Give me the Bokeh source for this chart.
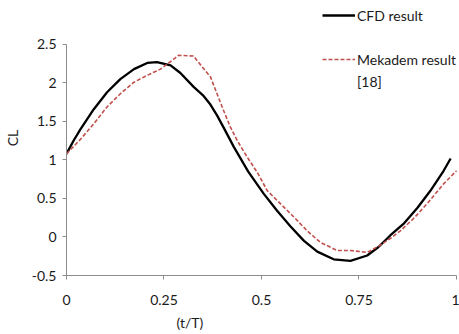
from bokeh.plotting import figure
from bokeh.models import Range1d, FixedTicker, Legend, LegendItem, Title
from bokeh.embed import file_html
from bokeh.resources import INLINE

# CFD result (black)
cfd_t = [0.0, 0.018, 0.036, 0.07, 0.104, 0.138, 0.173, 0.207, 0.232, 0.267, 0.292,
         0.326, 0.35, 0.369, 0.386, 0.403, 0.429, 0.466, 0.506, 0.54, 0.574, 0.609,
         0.643, 0.685, 0.728, 0.771, 0.80, 0.83, 0.864, 0.9, 0.933, 0.967, 0.985]
cfd_cl = [1.08, 1.25, 1.40, 1.66, 1.88, 2.05, 2.18, 2.26, 2.27, 2.23, 2.13,
          1.95, 1.84, 1.72, 1.58, 1.42, 1.17, 0.85, 0.56, 0.34, 0.14, -0.05,
          -0.19, -0.29, -0.31, -0.24, -0.13, 0.02, 0.17, 0.38, 0.60, 0.86, 1.02]

# Mekadem result [18] (red dashed)
mek_t = [0.0, 0.036, 0.07, 0.104, 0.138, 0.173, 0.207, 0.241, 0.275, 0.287, 0.326,
         0.335, 0.369, 0.386, 0.403, 0.42, 0.438, 0.463, 0.489, 0.515, 0.549, 0.583,
         0.617, 0.651, 0.694, 0.728, 0.771, 0.80, 0.83, 0.856, 0.89, 0.926, 0.967, 1.0]
mek_cl = [1.08, 1.27, 1.47, 1.69, 1.86, 2.01, 2.10, 2.18, 2.31, 2.36, 2.35,
          2.29, 2.08, 1.86, 1.64, 1.43, 1.25, 1.04, 0.84, 0.60, 0.43, 0.26,
          0.08, -0.07, -0.175, -0.175, -0.20, -0.12, -0.02, 0.08, 0.24, 0.44, 0.69, 0.86]

x_ticks = [0, 0.25, 0.5, 0.75, 1]
y_ticks = [-0.5, 0, 0.5, 1, 1.5, 2, 2.5]

FONT = "Lato"
AX = "#8c8c8c"
TXT = "#1a1a1a"

# frame extended above the axis extent so the legend can sit in the top band
p = figure(width=459, height=334, output_backend="svg", toolbar_location=None,
           x_range=Range1d(0, 1.0077), y_range=Range1d(-0.5, 3.0714),
           min_border_left=66, min_border_right=0, min_border_top=0, min_border_bottom=59)
p.outline_line_color = None
p.background_fill_color = "white"
p.grid.visible = False

r_cfd = p.line(cfd_t, cfd_cl, line_color="black", line_width=2.3)
r_mek = p.line(mek_t, mek_cl, line_color="#C0504D", line_width=1.6, line_dash="4 2")
r_blank = p.line([0, 0], [0, 0], line_alpha=0)

for ax in (p.xaxis[0], p.yaxis[0]):
    ax.axis_line_color = AX
    ax.major_tick_line_color = AX
    ax.minor_tick_line_color = None
    ax.major_tick_out = 4
    ax.major_tick_in = 0
    ax.major_label_text_font = FONT
    ax.major_label_text_font_size = "14px"
    ax.major_label_text_color = TXT

p.xaxis[0].bounds = (0, 1)
p.yaxis[0].bounds = (-0.5, 2.5)
p.xaxis[0].ticker = FixedTicker(ticks=x_ticks)
p.yaxis[0].ticker = FixedTicker(ticks=y_ticks)
p.xaxis[0].major_label_overrides = {0: "0", 0.25: "0.25", 0.5: "0.5", 0.75: "0.75", 1: "1"}
p.yaxis[0].major_label_overrides = {-0.5: "-0.5", 0: "0", 0.5: "0.5", 1: "1", 1.5: "1.5", 2: "2", 2.5: "2.5"}
p.xaxis[0].major_label_standoff = 15
p.yaxis[0].major_label_standoff = 6

p.yaxis[0].axis_label = "CL"
p.yaxis[0].axis_label_text_font = FONT
p.yaxis[0].axis_label_text_font_size = "14px"
p.yaxis[0].axis_label_text_font_style = "normal"
p.yaxis[0].axis_label_text_color = TXT
p.yaxis[0].axis_label_standoff = 8

xt = Title(text="(t/T)", align="left", offset=110, text_font=FONT, text_font_size="14px",
           text_font_style="normal", text_color=TXT, standoff=8)
p.add_layout(xt, "below")

legend = Legend(items=[
    LegendItem(label="CFD result", renderers=[r_cfd]),
    LegendItem(label=" ", renderers=[r_blank]),
    LegendItem(label="Mekadem result", renderers=[r_mek]),
    LegendItem(label="[18]", renderers=[r_blank]),
], location=(256, 183))
legend.spacing = 0
legend.padding = 0
legend.margin = 0
legend.label_height = 22
legend.glyph_height = 22
legend.glyph_width = 33
legend.label_standoff = 2
legend.label_text_font = FONT
legend.label_text_font_size = "14px"
legend.label_text_color = TXT
legend.border_line_alpha = 0
legend.background_fill_alpha = 0
p.add_layout(legend, "center")

open("out.html", "w").write(file_html(p, INLINE))
